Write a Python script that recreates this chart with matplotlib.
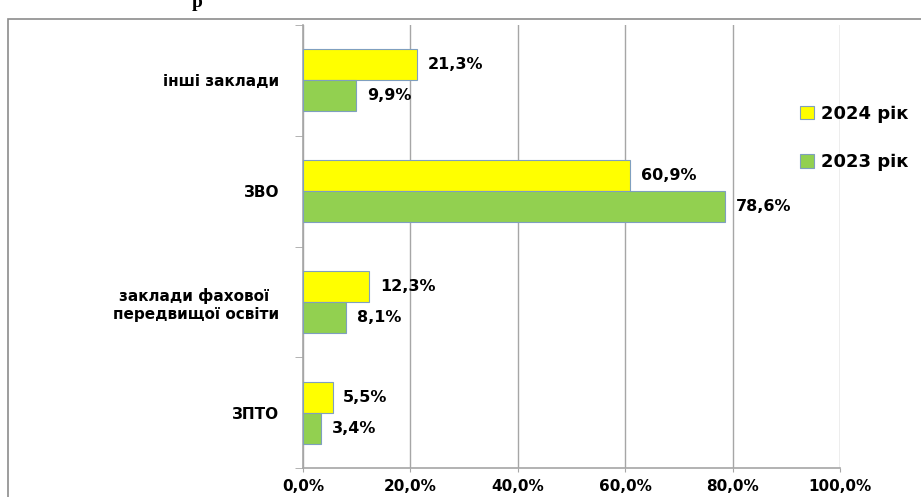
import matplotlib.pyplot as plt
import numpy as np
from matplotlib.patches import Rectangle
from matplotlib.ticker import FixedLocator

categories = ["ЗПТО", "заклади фахової \nпередвищої освіти", "ЗВО", "інші заклади"]
values_2024 = [5.5, 12.3, 60.9, 21.3]
values_2023 = [3.4, 8.1, 78.6, 9.9]
labels_2024 = ["5,5%", "12,3%", "60,9%", "21,3%"]
labels_2023 = ["3,4%", "8,1%", "78,6%", "9,9%"]
xticks = [0, 20, 40, 60, 80, 100]
xtick_labels = ["0,0%", "20,0%", "40,0%", "60,0%", "80,0%", "100,0%"]

yellow = "#FFFF00"
green = "#92D050"
edge = "#7F9FBF"
grid_c = "#A6A6A6"

fig = plt.figure(figsize=(9.21, 4.97), dpi=100)
ax = fig.add_axes([303 / 921, 1 - 468 / 497, 537 / 921, 443 / 497])

# outer chart border (cut off at right and bottom)
fig.patches.append(Rectangle((8 / 921, -0.1), 1.2, 1 - 19 / 497 + 0.1,
                             transform=fig.transFigure, fill=False,
                             edgecolor="#8C8C8C", linewidth=1.2))
fig.text(197 / 921, 0.995, "р", fontsize=14, fontweight="bold",
         family="Liberation Serif", va="center", ha="center")

y = np.arange(len(categories))
h = 0.28
b24 = ax.barh(y + h / 2, values_2024, height=h, color=yellow, edgecolor=edge,
              linewidth=0.8, label="2024 рік", zorder=3)
b23 = ax.barh(y - h / 2, values_2023, height=h, color=green, edgecolor=edge,
              linewidth=0.8, label="2023 рік", zorder=3)

for bar, txt in zip(b24, labels_2024):
    ax.text(bar.get_width() + 2.0, bar.get_y() + bar.get_height() / 2, txt,
            va="center", ha="left", fontsize=11.5, fontweight="bold")
for bar, txt in zip(b23, labels_2023):
    ax.text(bar.get_width() + 2.0, bar.get_y() + bar.get_height() / 2, txt,
            va="center", ha="left", fontsize=11.5, fontweight="bold")

ax.set_xlim(0, 100)
ax.set_ylim(-0.5, 3.5)
ax.set_xticks(xticks)
ax.set_xticklabels(xtick_labels, fontsize=11, fontweight="bold")
ax.set_yticks(y)
ax.set_yticklabels(categories, fontsize=11, fontweight="bold", ha="right",
                   multialignment="center", linespacing=1.25)
ax.tick_params(axis="y", which="major", length=0, pad=17)
ax.yaxis.set_minor_locator(FixedLocator([-0.5, 0.5, 1.5, 2.5, 3.5]))
ax.tick_params(axis="y", which="minor", length=6, color=grid_c)
ax.tick_params(axis="x", length=3, color=grid_c, pad=5)

ax.grid(axis="x", color=grid_c, linewidth=1, zorder=0)
for s in ["top", "right"]:
    ax.spines[s].set_visible(False)
for s in ["left", "bottom"]:
    ax.spines[s].set_color(grid_c)
    ax.spines[s].set_linewidth(1.2)

leg = ax.legend(handles=[b24, b23], loc="center left",
                bbox_to_anchor=(800 / 921, 1 - 138 / 497),
                bbox_transform=fig.transFigure, frameon=False,
                borderpad=0, borderaxespad=0,
                prop={"size": 13, "weight": "bold"}, handlelength=0.75,
                handleheight=0.75, handletextpad=0.4, labelspacing=1.7)

fig.savefig("out.png", dpi=100)
